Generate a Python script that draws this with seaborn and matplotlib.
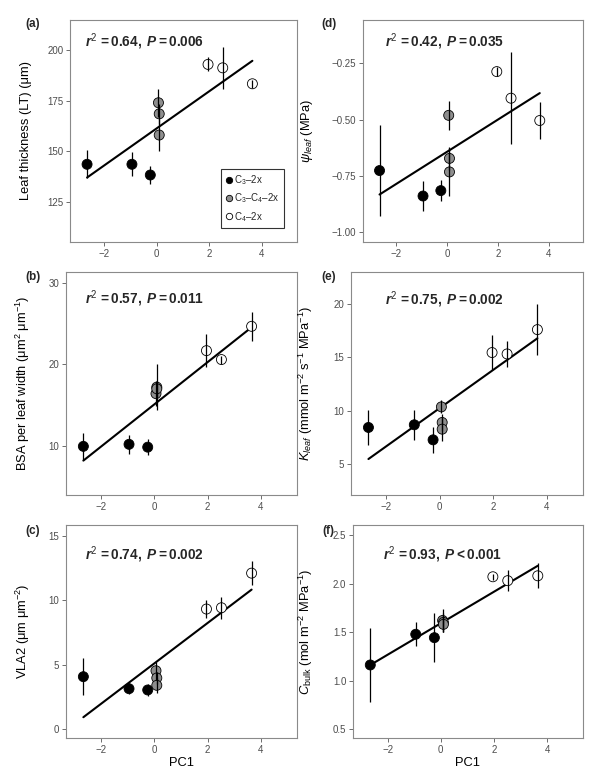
import numpy as np
import pandas as pd
import matplotlib
matplotlib.use("Agg")
import matplotlib.pyplot as plt
from matplotlib.lines import Line2D
from matplotlib.ticker import FuncFormatter
import seaborn as sns

# ---------------- data ----------------
groups = ["C3", "C3", "C3", "C3C4", "C3C4", "C3C4", "C4", "C4", "C4"]
pc1 = [-2.65, -0.94, -0.24, 0.07, 0.10, 0.10, 1.96, 2.52, 3.65]

lt = [143.5, 143.5, 138.2, 174.0, 168.5, 158.0, 193.0, 191.3, 183.4]
lt_err = [7.0, 6.0, 4.5, 7.0, 5.0, 7.8, 3.5, 10.5, 2.0]

bsa = [9.9, 10.15, 9.8, 16.4, 17.2, 17.0, 21.7, 20.6, 24.7]
bsa_err = [1.7, 1.15, 1.0, 1.5, 2.8, 1.0, 2.0, 0.5, 1.8]

vla = [4.08, 3.15, 3.05, 4.54, 3.98, 3.41, 9.32, 9.42, 12.1]
vla_err = [1.45, 0.45, 0.5, 0.7, 0.5, 0.57, 0.7, 0.85, 0.95]

psi = [-0.726, -0.839, -0.815, -0.481, -0.672, -0.732, -0.287, -0.405, -0.504]
psi_err = [0.20, 0.067, 0.047, 0.065, 0.05, 0.105, 0.02, 0.203, 0.084]

kleaf = [8.43, 8.68, 7.27, 10.36, 8.9, 8.27, 15.45, 15.32, 17.6]
kleaf_err = [1.65, 1.4, 1.2, 0.6, 0.8, 1.15, 1.65, 1.2, 2.4]

cbulk = [1.162, 1.478, 1.443, 1.62, 1.60, 1.58, 2.07, 2.03, 2.08]
cbulk_err = [0.38, 0.125, 0.25, 0.12, 0.10, 0.08, 0.03, 0.11, 0.13]

group_labels = ["C$_3$–2x", "C$_3$–C$_4$–2x", "C$_4$–2x"]
stats_text = [
    r"$\mathbfit{r}^{2}\mathbf{\,=0.64,}\ \mathbfit{P}\mathbf{=0.006}$",
    r"$\mathbfit{r}^{2}\mathbf{\,=0.57,}\ \mathbfit{P}\mathbf{=0.011}$",
    r"$\mathbfit{r}^{2}\mathbf{\,=0.74,}\ \mathbfit{P}\mathbf{=0.002}$",
    r"$\mathbfit{r}^{2}\mathbf{\,=0.42,}\ \mathbfit{P}\mathbf{=0.035}$",
    r"$\mathbfit{r}^{2}\mathbf{\,=0.75,}\ \mathbfit{P}\mathbf{=0.002}$",
    r"$\mathbfit{r}^{2}\mathbf{\,=0.93,}\ \mathbfit{P}\mathbf{<0.001}$",
]
ylabels = [
    "Leaf thickness (LT) (μm)",
    "BSA per leaf width (μm$^2$ μm$^{-1}$)",
    "VLA2 (μm μm$^{-2}$)",
    r"$\psi_{leaf}$ (MPa)",
    r"$K_{\mathit{leaf}}$ (mmol m$^{-2}$ s$^{-1}$ MPa$^{-1}$)",
    r"$C_{\mathrm{bulk}}$ (mol m$^{-2}$ MPa$^{-1}$)",
]
panel_letters = ["(a)", "(b)", "(c)", "(d)", "(e)", "(f)"]

# ---------------- style ----------------
sns.set_style("white")
plt.rcParams["font.family"] = ["Liberation Sans", "DejaVu Sans"]
plt.rcParams["mathtext.fontset"] = "custom"
plt.rcParams["mathtext.rm"] = "Liberation Sans"
plt.rcParams["mathtext.it"] = "Liberation Sans:italic"
plt.rcParams["mathtext.bf"] = "Liberation Sans:bold"
plt.rcParams["mathtext.bfit"] = "Liberation Sans:bold:italic"

palette = {"C3": "black", "C3C4": "#8e8e8e", "C4": "white"}

fig = plt.figure(figsize=(6, 7.68), dpi=100)

W, H = 600.0, 768.0
# pixel boxes: left, top, right, bottom
boxes = [
    (70, 20, 297, 242),
    (66, 272, 297, 495),
    (66, 525, 297, 738),
    (363, 20, 583, 242),
    (351, 272, 583, 495),
    (353, 525, 583, 738),
]
ylims = [(105, 215), (3.9, 31.4), (-0.67, 15.83), (-1.043, -0.058), (2.1, 23.0), (0.41, 2.603)]
yticks = [[125, 150, 175, 200], [10, 20, 30], [0, 5, 10, 15],
          [-1.0, -0.75, -0.5, -0.25], [5, 10, 15, 20], [0.5, 1.0, 1.5, 2.0, 2.5]]
yfmts = ["{:.0f}", "{:.0f}", "{:.0f}", "{:.2f}", "{:.0f}", "{:.1f}"]
text_pos = [(0.066, 0.90), (0.082, 0.882), (0.082, 0.859), (0.10, 0.90), (0.147, 0.878), (0.132, 0.862)]
ylab_x = [-0.168, -0.147, -0.147, -0.218, -0.155, -0.165]
letter_pos = [(25, 24), (25, 277), (25, 531), (321, 24), (321, 277), (322, 531)]
series = [(lt, lt_err), (bsa, bsa_err), (vla, vla_err), (psi, psi_err), (kleaf, kleaf_err), (cbulk, cbulk_err)]

for i in range(6):
    l, t, r, b = boxes[i]
    ax = fig.add_axes([l / W, 1 - b / H, (r - l) / W, (b - t) / H])
    yv, ye = series[i]
    df = pd.DataFrame({"pc1": pc1, "y": yv, "err": ye, "group": groups})

    sns.regplot(data=df, x="pc1", y="y", scatter=False, ci=None, color="black",
                truncate=True, line_kws={"lw": 1.5, "zorder": 2}, ax=ax)
    sns.scatterplot(data=df, x="pc1", y="y", hue="group", palette=palette,
                    s=52, edgecolor="black", linewidth=0.6, legend=False,
                    zorder=3, ax=ax)
    ax.errorbar(df["pc1"], df["y"], yerr=df["err"], fmt="none", ecolor="black",
                elinewidth=0.9, capsize=0, zorder=4)

    ax.set_xlim(-3.3, 5.35)
    ax.set_ylim(*ylims[i])
    ax.set_xticks([-2, 0, 2, 4])
    ax.set_yticks(yticks[i])
    fmt = yfmts[i]
    ax.yaxis.set_major_formatter(FuncFormatter(lambda v, p, f=fmt: f.format(v).replace("-", "\u2212")))
    ax.xaxis.set_major_formatter(FuncFormatter(lambda v, p: "{:.0f}".format(v).replace("-", "\u2212")))

    for sp in ax.spines.values():
        sp.set_color("#8a8a8a")
        sp.set_linewidth(0.8)
    ax.tick_params(axis="both", which="major", direction="out", length=2.8, width=0.6,
                   color="#555555", labelcolor="#4d4d4d", labelsize=7, pad=2,
                   bottom=True, left=True)

    ax.set_ylabel(ylabels[i], fontsize=9.3, color="black")
    ax.yaxis.set_label_coords(ylab_x[i], 0.5)
    if i in (2, 5):
        ax.set_xlabel("PC1", fontsize=9.3, color="black", labelpad=2)
    else:
        ax.set_xlabel("")

    ax.text(text_pos[i][0], text_pos[i][1], stats_text[i], transform=ax.transAxes,
            ha="left", va="center", fontsize=9.8)
    fig.text(letter_pos[i][0] / W, 1 - letter_pos[i][1] / H, panel_letters[i],
             fontsize=8.5, fontweight="bold", ha="left", va="center")

    if i == 0:
        handles = [Line2D([0], [0], marker="o", linestyle="none", markersize=4.6,
                          markerfacecolor=palette[g], markeredgecolor="black",
                          markeredgewidth=0.6) for g in ["C3", "C3C4", "C4"]]
        leg = ax.legend(handles, group_labels, loc="lower right",
                        bbox_to_anchor=(0.942, 0.063), fontsize=7, frameon=True,
                        fancybox=False, edgecolor="black", handlelength=0.7,
                        handletextpad=0.15, borderpad=0.45, labelspacing=0.45,
                        borderaxespad=0)
        leg.get_frame().set_linewidth(0.8)

fig.savefig("out.png", dpi=100)
